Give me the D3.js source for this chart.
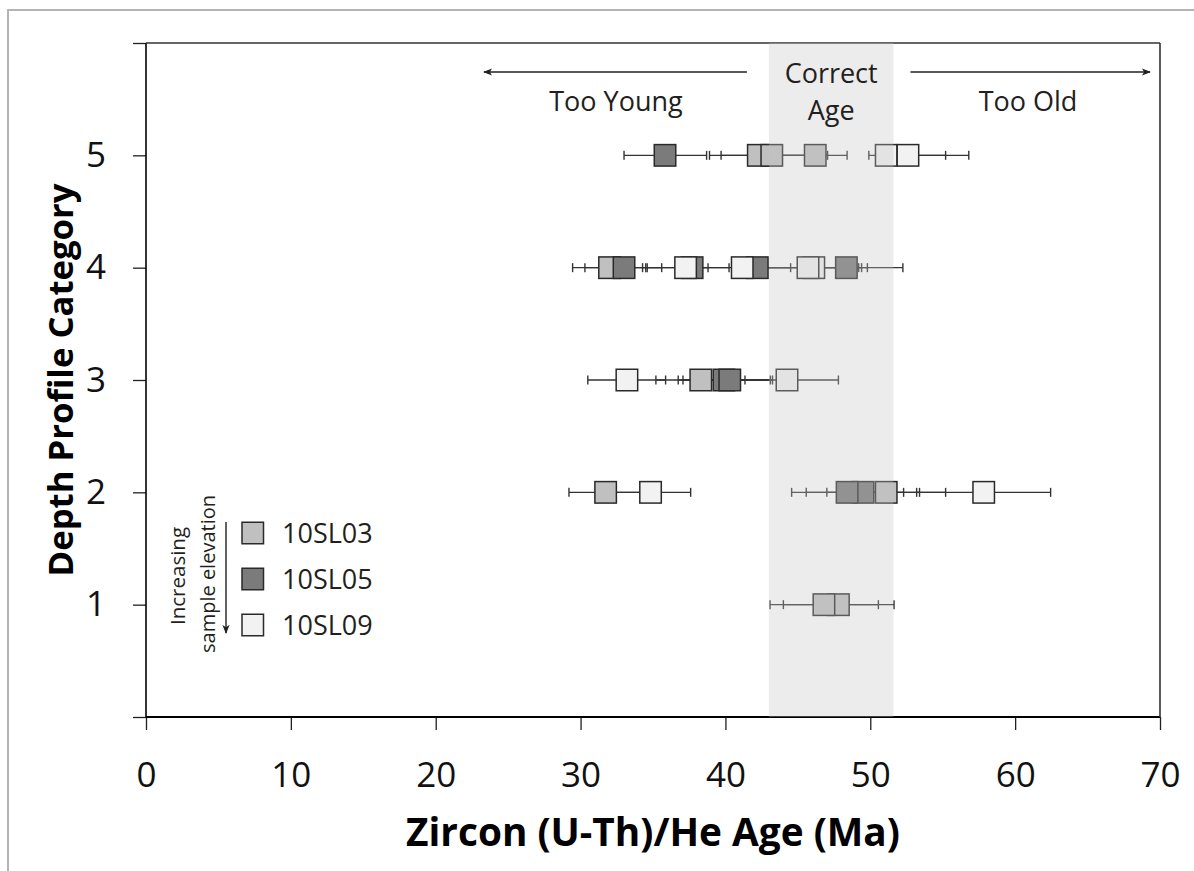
<!DOCTYPE html>
<html><head><meta charset="utf-8">
<script src="https://cdn.jsdelivr.net/npm/d3@7"></script>
<style>body{margin:0;background:#fff}svg{display:block}</style>
</head><body>
<svg id="chart" width="1194" height="871"></svg>
<script>
// ---------- data ----------
const categories = [1, 2, 3, 4, 5];
const seriesNames = ["10SL03", "10SL05", "10SL09"];
const seriesColors = ["#c0c0c0", "#7b7b7b", "#f2f2f2"];
// each entry: [depth category, age (Ma), lower error end, upper error end]
const sl03 = [
  [5, 42.27, 38.9, 45.6], [5, 43.2, 39.7, 47.05], [5, 46.2, 43.9, 48.4],
  [4, 32.0, 29.45, 34.6],
  [3, 38.3, 35.2, 41.35],
  [2, 31.73, 29.2, 34.2], [2, 51.1, 47.0, 55.2],
  [1, 47.8, 44.0, 51.64], [1, 46.8, 43.08, 50.56]
];
const sl05 = [
  [5, 35.83, 33.0, 38.7],
  [4, 33.0, 30.3, 35.6], [4, 37.7, 34.5, 38.8], [4, 42.2, 40.7, 49.4], [4, 48.35, 45.2, 52.25],
  [3, 39.9, 36.74, 43.1], [3, 40.3, 37.07, 43.25],
  [2, 49.5, 45.58, 53.4], [2, 48.4, 44.57, 52.3]
];
const sl09 = [
  [5, 51.1, 49.9, 55.2], [5, 52.6, 50.6, 56.8],
  [4, 37.25, 34.28, 40.25], [4, 41.16, 38.2, 44.5], [4, 46.1, 42.3, 49.8], [4, 45.7, 42.6, 49.2],
  [3, 33.2, 30.5, 35.87], [3, 44.25, 40.9, 47.8],
  [2, 34.83, 32.0, 37.6], [2, 57.83, 53.2, 62.45]
];
const seriesData = [sl03, sl05, sl09];
const xTicks = [0, 10, 20, 30, 40, 50, 60, 70];
const yTicks = [0, 1, 2, 3, 4, 5, 6];
const yTickLabels = ["", "1", "2", "3", "4", "5", ""];
const correctAge = [43.0, 51.6];
const xTitle = "Zircon (U-Th)/He Age (Ma)";
const yTitle = "Depth Profile Category";

// ---------- layout ----------
const svg = d3.select("#chart");
const L = 146, R = 1160, T = 43, B = 717;
const x = d3.scaleLinear().domain([0, 70]).range([L, R]);
const y = d3.scaleLinear().domain([0, 6]).range([B, T]);
const font = "'Open Sans', sans-serif";
const ink = "#231f20";

function fit(sel, target) {
  const len = sel.node().getComputedTextLength();
  const fs = parseFloat(sel.attr("font-size"));
  sel.attr("font-size", fs * target / len);
}

// outer frame
svg.append("path").attr("d", "M8,871 V10 H1194").attr("fill", "none")
  .attr("stroke", "#b4b4b4").attr("stroke-width", 2);

// arrow markers
const defs = svg.append("defs");
defs.append("marker").attr("id", "ah").attr("viewBox", "0 0 10 10")
  .attr("refX", 9).attr("refY", 5).attr("markerWidth", 9).attr("markerHeight", 9)
  .attr("markerUnits", "userSpaceOnUse").attr("orient", "auto")
  .append("path").attr("d", "M0,1 L10,5 L0,9 L2.5,5 Z").attr("fill", ink);

// axes
const xAxis = d3.axisBottom(x).tickValues(xTicks).tickSize(13).tickSizeOuter(0).tickPadding(32);
const gx = svg.append("g").attr("transform", `translate(0,${B})`).call(xAxis);
gx.select(".domain").remove();
gx.selectAll(".tick line").attr("stroke", ink).attr("stroke-width", 1.3);
gx.selectAll(".tick text").attr("font-family", font).attr("font-size", 35).attr("fill", "#111");

const yAxis = d3.axisLeft(y).tickValues(yTicks).tickSize(13).tickSizeOuter(0).tickPadding(27)
  .tickFormat((d, i) => yTickLabels[i]);
const gy = svg.append("g").attr("transform", `translate(${L},0)`).call(yAxis);
gy.select(".domain").remove();
gy.selectAll(".tick line").attr("stroke", ink).attr("stroke-width", 1.3);
gy.selectAll(".tick text").attr("font-family", font).attr("font-size", 35).attr("fill", "#111");

// plot frame
svg.append("line").attr("x1", x(0)).attr("x2", x(70)).attr("y1", y(0)).attr("y2", y(0))
  .attr("stroke", "#000").attr("stroke-width", 2.2);
svg.append("line").attr("x1", x(0)).attr("x2", x(0)).attr("y1", y(0)).attr("y2", y(6))
  .attr("stroke", "#000").attr("stroke-width", 1.6);
svg.append("line").attr("x1", x(0)).attr("x2", x(70)).attr("y1", y(6)).attr("y2", y(6))
  .attr("stroke", "#333").attr("stroke-width", 1.3);
svg.append("line").attr("x1", x(70)).attr("x2", x(70)).attr("y1", y(6)).attr("y2", y(0))
  .attr("stroke", "#333").attr("stroke-width", 1.6);

// error bars
const capH = 9, box = 21.5;
const allPts = seriesData.flatMap((arr, s) => arr.map(d => ({s, cat: d[0], age: d[1], lo: d[2], hi: d[3]})));
const eb = svg.append("g").attr("stroke", "#333").attr("stroke-width", 1.4).attr("fill", "none");
allPts.forEach(p => {
  const cy = y(p.cat);
  eb.append("line").attr("x1", x(p.lo)).attr("x2", x(p.hi)).attr("y1", cy).attr("y2", cy);
  eb.append("line").attr("x1", x(p.lo)).attr("x2", x(p.lo)).attr("y1", cy - capH / 2).attr("y2", cy + capH / 2);
  eb.append("line").attr("x1", x(p.hi)).attr("x2", x(p.hi)).attr("y1", cy - capH / 2).attr("y2", cy + capH / 2);
});

// markers, series drawn in order
seriesData.forEach((arr, s) => {
  svg.append("g").selectAll("rect").data(arr).join("rect")
    .attr("x", d => x(d[1]) - box / 2).attr("y", d => y(d[0]) - box / 2)
    .attr("width", box).attr("height", box)
    .attr("fill", seriesColors[s]).attr("stroke", "#2a2a2a").attr("stroke-width", 1.5);
});

// correct-age band (translucent, over the data)
svg.append("rect").attr("x", x(correctAge[0])).attr("y", y(6))
  .attr("width", x(correctAge[1]) - x(correctAge[0])).attr("height", y(0) - y(6))
  .attr("fill", "#c4c4c4").attr("opacity", 0.32);

// annotations
const bandMid = (x(correctAge[0]) + x(correctAge[1])) / 2;
svg.append("line").attr("x1", x(correctAge[0]) - 22).attr("x2", 484).attr("y1", 72).attr("y2", 72)
  .attr("stroke", ink).attr("stroke-width", 1.4).attr("marker-end", "url(#ah)");
svg.append("line").attr("x1", x(correctAge[1]) + 17).attr("x2", 1150).attr("y1", 72).attr("y2", 72)
  .attr("stroke", ink).attr("stroke-width", 1.4).attr("marker-end", "url(#ah)");
const ann = [["Correct", bandMid, 83], ["Age", bandMid, 120], ["Too Young", 616, 111], ["Too Old", 1028, 111]];
ann.forEach(a => svg.append("text").attr("x", a[1]).attr("y", a[2]).attr("text-anchor", "middle")
  .attr("font-family", font).attr("font-size", 27).attr("fill", ink).text(a[0]));

// legend
const legY = [533, 579, 625];
seriesNames.forEach((n, i) => {
  svg.append("rect").attr("x", 242).attr("y", legY[i] - box / 2).attr("width", box).attr("height", box)
    .attr("fill", seriesColors[i]).attr("stroke", "#2a2a2a").attr("stroke-width", 1.5);
  svg.append("text").attr("x", 282).attr("y", legY[i] + 10).attr("font-family", font)
    .attr("font-size", 27).attr("fill", ink).text(n);
});
svg.append("line").attr("x1", 226).attr("x2", 226).attr("y1", 522).attr("y2", 633)
  .attr("stroke", ink).attr("stroke-width", 1.4).attr("marker-end", "url(#ah)");
svg.append("text").attr("transform", "translate(185,576) rotate(-90)")
  .attr("text-anchor", "middle").attr("font-family", font).attr("font-size", 20.5).attr("fill", ink).text("Increasing");
svg.append("text").attr("transform", "translate(215,574) rotate(-90)")
  .attr("text-anchor", "middle").attr("font-family", font).attr("font-size", 20).attr("fill", ink).text("sample elevation");

// axis titles
const xt = svg.append("text").attr("x", (L + R) / 2).attr("y", 846).attr("text-anchor", "middle")
  .attr("font-family", font).attr("font-weight", 700).attr("font-size", 32).attr("fill", "#000").text(xTitle);
fit(xt, 494);
const yt = svg.append("text").attr("transform", `translate(73,${(T + B) / 2}) rotate(-90)`).attr("text-anchor", "middle")
  .attr("font-family", font).attr("font-weight", 700).attr("font-size", 32).attr("fill", "#000").text(yTitle);
fit(yt, 393);
</script>
</body></html>
